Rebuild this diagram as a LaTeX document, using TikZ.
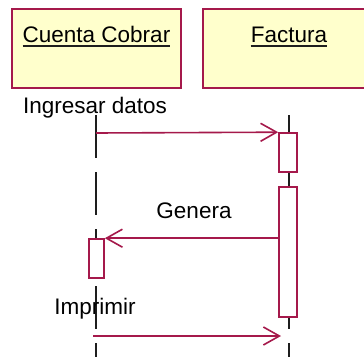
\documentclass[tikz,border=0pt]{standalone}
\usepackage{fontspec}
\setmainfont{Liberation Sans}
\usetikzlibrary{arrows.meta}
\definecolor{rosered}{RGB}{165,25,75}
\definecolor{roseyellow}{RGB}{255,255,204}
\definecolor{lifegray}{RGB}{30,30,30}
\tikzset{
  objbox/.style={draw=rosered, line width=2pt, fill=roseyellow,
    minimum height=79pt, inner sep=0pt},
  objtitle/.style={anchor=base, inner sep=0pt, font=\fontsize{22.5}{26}\selectfont},
  msglabel/.style={anchor=base, inner sep=0pt, font=\fontsize{22.5}{26}\selectfont},
  lifeline/.style={draw=lifegray, line width=2pt, dash pattern=on 43pt off 14pt},
  activation/.style={draw=rosered, line width=1.6pt, fill=white, inner sep=0pt},
  message/.style={draw=rosered, line width=1.6pt,
    -{Straight Barb[length=16pt, width=18pt]}},
}
\begin{document}
\begin{tikzpicture}[x=1pt, y=-1pt]
  \useasboundingbox (0,0) rectangle (364,356);

  % objects
  \node[objbox, minimum width=169pt] (cc) at (96.5,48.5) {};
  \node[objbox, minimum width=172pt] (fa) at (289,48.5) {};
  \node[objtitle] (cct) at (96.5,42) {Cuenta Cobrar};
  \node[objtitle] (fat) at (289,42) {Factura};
  \draw[line width=1.8pt, lifegray] ([yshift=-4pt]cct.base west) -- ([yshift=-4pt]cct.base east);
  \draw[line width=1.8pt, lifegray] ([yshift=-4pt]fat.base west) -- ([yshift=-4pt]fat.base east);

  % lifelines
  \coordinate (l1top) at (96,115);
  \coordinate (l1bot) at (96,360);
  \coordinate (l2top) at (289,115);
  \coordinate (l2bot) at (289,360);
  \draw[lifeline] (l1top) -- (l1bot);
  \draw[lifeline] (l2top) -- (l2bot);

  % activations
  \node[activation, minimum width=18pt, minimum height=39pt] (fa1) at (288,152.5) {};
  \node[activation, minimum width=18pt, minimum height=130pt] (fa2) at (288,252) {};
  \node[activation, minimum width=15pt, minimum height=39pt] (cc1) at (96.5,258.5) {};

  % messages
  \coordinate (m1start) at (96,133);
  \coordinate (m3start) at (93,336);
  \coordinate (m3end) at (281,336);
  \draw[message] (m1start) -- (fa1.north west);
  \draw[message] (fa2.west |- cc1.north east) -- (cc1.north east);
  \draw[message] (m3start) -- (m3end);

  % message labels
  \node[msglabel] (lbl1) at (95,113) {Ingresar datos};
  \node[msglabel] (lbl2) at (194,218) {Genera};
  \node[msglabel] (lbl3) at (95,314) {Imprimir};
\end{tikzpicture}
\end{document}
